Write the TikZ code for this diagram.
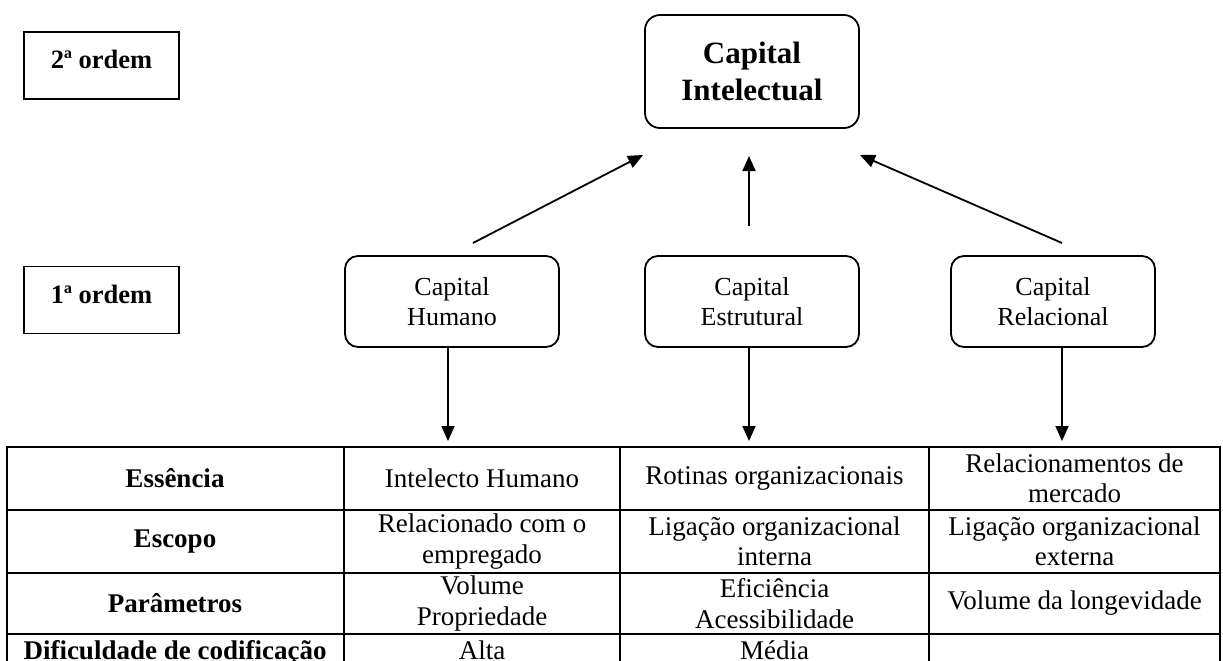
\documentclass[tikz,border=0pt]{standalone}
\usepackage{fontspec}
\setmainfont{Liberation Serif}
\usetikzlibrary{arrows.meta}
\begin{document}
\begin{tikzpicture}[x=1pt,y=-1pt,
  rbox/.style={draw,line width=1.8pt,rounded corners=13pt,align=center,inner sep=0pt,
    minimum height=91pt,font=\fontsize{26}{29.5}\selectfont},
  cibox/.style={draw,line width=1.8pt,rounded corners=15pt,align=center,inner sep=0pt,
    minimum width=214pt,minimum height=113pt,font=\bfseries\fontsize{31}{37.5}\selectfont},
  ordbox/.style={draw,line width=1.8pt,inner sep=0pt,minimum width=155pt,minimum height=67pt,
    text height=18pt,font=\bfseries\fontsize{26.5}{30}\selectfont},
  arr/.style={line width=1.8pt,-{Triangle[length=15pt,width=13pt]}},
  tline/.style={line width=2pt},
  cell/.style={align=center,inner sep=0pt,font=\fontsize{27}{30.5}\selectfont},
  hcell/.style={align=center,inner sep=0pt,font=\bfseries\fontsize{27}{30.5}\selectfont}]
\useasboundingbox (0,0) rectangle (1223,661);
\clip (0,0) rectangle (1223,661);

% order labels
\node[ordbox,text depth=13pt] (o2) at (101.5,65.5) {2ª ordem};
\node[ordbox,text depth=12pt] (o1) at (101.5,300) {1ª ordem};

% capital nodes
\node[cibox] (ci) at (752,71.5) {Capital\\Intelectual};
\node[rbox,minimum width=214pt] (ch) at (452,301.5) {Capital\\Humano};
\node[rbox,minimum width=214pt] (ce) at (752,301.5) {Capital\\Estrutural};
\node[rbox,minimum width=204pt] (cr) at (1053,301.5) {Capital\\Relacional};

% upward arrows
\coordinate (chU) at (473,243);  \coordinate (ciL) at (643,155);
\coordinate (ceU) at (749,226);  \coordinate (ciM) at (749,156);
\coordinate (crU) at (1062,243); \coordinate (ciR) at (860,155);
\draw[arr] (chU) -- (ciL);
\draw[arr] (ceU) -- (ciM);
\draw[arr] (crU) -- (ciR);

% downward arrows
\coordinate (chD) at (448,441);
\coordinate (ceD) at (749,441);
\coordinate (crD) at (1062,441);
\draw[arr] (ch.south -| chD) -- (chD);
\draw[arr] (ce.south -| ceD) -- (ceD);
\draw[arr] (cr.south -| crD) -- (crD);

% table grid
\draw[tline] (7,447) -- (1220,447);
\draw[tline] (7,510) -- (1220,510);
\draw[tline] (7,573) -- (1220,573);
\draw[tline] (7,634) -- (1220,634);
\draw[tline] (7,446) -- (7,700);
\draw[tline] (344,446) -- (344,700);
\draw[tline] (620,446) -- (620,700);
\draw[tline] (929,446) -- (929,700);
\draw[tline] (1220,446) -- (1220,700);

% row 1
\node[hcell] (h1) at (175,478.5) {Essência};
\node[cell] (c12) at (482,478.5) {Intelecto Humano};
\node[cell] (c13) at (774.5,478.5) {Rotinas organizacionais};
\node[cell] (c14) at (1074.5,478.5) {Relacionamentos de\\mercado};
% row 2
\node[hcell] (h2) at (175,541.5) {Escopo};
\node[cell] (c22) at (482,541.5) {Relacionado com o\\empregado};
\node[cell] (c23) at (774.5,541.5) {Ligação organizacional\\interna};
\node[cell] (c24) at (1074.5,541.5) {Ligação organizacional\\externa};
% row 3
\node[hcell] (h3) at (175,603.5) {Parâmetros};
\node[cell] (c32) at (482,603.5) {Volume\\Propriedade};
\node[cell] (c33) at (774.5,603.5) {Eficiência\\Acessibilidade};
\node[cell] (c34) at (1074.5,603.5) {Volume da longevidade};
% row 4
\node[hcell,anchor=base] (h4) at (175,659) {Dificuldade de codificação};
\node[cell,anchor=base] (c42) at (482,659) {Alta};
\node[cell,anchor=base] (c43) at (774.5,659) {Média};
\end{tikzpicture}
\end{document}
